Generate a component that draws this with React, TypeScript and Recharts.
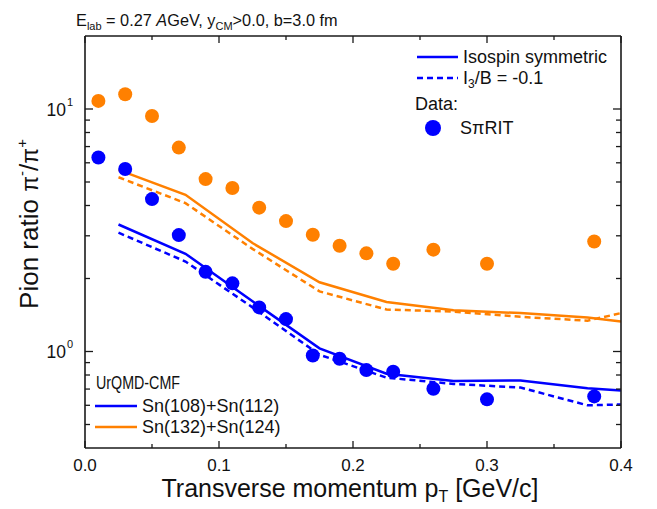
import React from 'react';
import { ComposedChart, Line, Scatter, XAxis, YAxis } from 'recharts';

// Model (UrQMD-CMF) pT bin centres [GeV/c]
const modelPt = [0.025, 0.075, 0.125, 0.175, 0.225, 0.275, 0.325, 0.375, 0.4];
// Sn(108)+Sn(112)
const lightSym = [3.34, 2.53, 1.61, 1.03, 0.81, 0.755, 0.76, 0.705, 0.69];
const lightIso = [3.09, 2.35, 1.52, 0.97, 0.78, 0.735, 0.71, 0.6, 0.605];
// Sn(132)+Sn(124)
const heavySym = [5.61, 4.43, 2.8, 1.93, 1.6, 1.48, 1.44, 1.38, 1.33];
const heavyIso = [5.23, 4.09, 2.65, 1.77, 1.49, 1.46, 1.39, 1.34, 1.44];

// SπRIT data
const dataPt = [0.01, 0.03, 0.05, 0.07, 0.09, 0.11, 0.13, 0.15, 0.17, 0.19, 0.21, 0.23, 0.26, 0.3, 0.38];
const dataLight = [6.31, 5.66, 4.25, 3.02, 2.13, 1.91, 1.52, 1.36, 0.963, 0.933, 0.838, 0.825, 0.702, 0.635, 0.653];
const dataHeavy = [10.8, 11.5, 9.36, 6.93, 5.14, 4.72, 3.92, 3.45, 3.03, 2.73, 2.54, 2.3, 2.63, 2.3, 2.84];

// Axis ticks
const xMajor = [0, 0.1, 0.2, 0.3, 0.4];
const xMinor = [0.05, 0.15, 0.25, 0.35];
const yMajor = [1, 10];
const yMinor = [0.5, 0.6, 0.7, 0.8, 0.9, 2, 3, 4, 5, 6, 7, 8, 9];
const yMajorLabels = ['0', '1'];

const BLUE = '#0000ff';
const ORANGE = '#ff8000';
const AX = '#1a1a1a';
const FONT = '"Liberation Sans", Arial, Helvetica, sans-serif';

const xTicks = [...xMajor, ...xMinor].sort((a, b) => a - b);
const yTicks = [...yMajor, ...yMinor].sort((a, b) => a - b);

const toPts = (xs: number[], ys: number[]) => xs.map((x, i) => ({ x, y: ys[i] }));

const isMajorX = (v: number) => xMajor.some((m) => Math.abs(m - v) < 1e-9);
const majorYIndex = (v: number) => yMajor.findIndex((m) => Math.abs(m - v) < 1e-9);

function BottomTick(props: any) {
  const { x, y, payload } = props;
  const v = payload.value;
  const major = isMajorX(v);
  return (
    <g>
      <line x1={x} x2={x} y1={y} y2={y - (major ? 7 : 4)} stroke={AX} strokeWidth={1.3} />
      {major && (
        <text x={x} y={y + 23} textAnchor="middle" fontSize={17} fill="#111" fontFamily={FONT}>
          {v.toFixed(1)}
        </text>
      )}
    </g>
  );
}

function TopTick(props: any) {
  const { x, y, payload } = props;
  const major = isMajorX(payload.value);
  return <line x1={x} x2={x} y1={y} y2={y + (major ? 7 : 4)} stroke={AX} strokeWidth={1.3} />;
}

function LeftTick(props: any) {
  const { x, y, payload } = props;
  const idx = majorYIndex(payload.value);
  const major = idx >= 0;
  return (
    <g>
      <line x1={x} x2={x + (major ? 8 : 5)} y1={y} y2={y} stroke={AX} strokeWidth={1.3} />
      {major && (
        <text x={x - 12} y={y + 7} textAnchor="end" fontSize={17.5} fill="#111" fontFamily={FONT}>
          10
          <tspan dx={1} dy={-10} fontSize={11}>
            {yMajorLabels[idx]}
          </tspan>
        </text>
      )}
    </g>
  );
}

function RightTick(props: any) {
  const { x, y, payload } = props;
  const major = majorYIndex(payload.value) >= 0;
  return <line x1={x} x2={x - (major ? 8 : 5)} y1={y} y2={y} stroke={AX} strokeWidth={1.3} />;
}

const Dot = (color: string, r: number) => (props: any) => {
  const { cx, cy } = props;
  if (cx == null || cy == null) return null;
  return <circle cx={cx} cy={cy} r={r} fill={color} />;
};

export default function App() {
  const W = 657;
  const H = 509;
  return (
    <div style={{ position: 'absolute', left: 0, top: 0, width: W, height: H, background: '#fff' }}>
      <ComposedChart width={W} height={H} margin={{ top: 0, right: 0, bottom: 0, left: 0 }}>
        <XAxis
          xAxisId="x"
          dataKey="x"
          type="number"
          orientation="bottom"
          domain={[0, 0.4]}
          ticks={xTicks}
          interval={0}
          allowDataOverflow
          height={61}
          tickSize={0}
          tickMargin={0}
          tickLine={false}
          axisLine={{ stroke: AX, strokeWidth: 1.6 }}
          tick={<BottomTick />}
        />
        <XAxis
          xAxisId="xt"
          dataKey="x"
          type="number"
          orientation="top"
          domain={[0, 0.4]}
          ticks={xTicks}
          interval={0}
          allowDataOverflow
          height={36}
          tickSize={0}
          tickMargin={0}
          tickLine={false}
          axisLine={{ stroke: AX, strokeWidth: 1.6 }}
          tick={<TopTick />}
        />
        <YAxis
          yAxisId="y"
          type="number"
          scale="log"
          domain={[0.4, 20]}
          ticks={yTicks}
          interval={0}
          allowDataOverflow
          width={85}
          tickSize={0}
          tickMargin={0}
          tickLine={false}
          axisLine={{ stroke: AX, strokeWidth: 1.6 }}
          tick={<LeftTick />}
        />
        <YAxis
          yAxisId="yr"
          orientation="right"
          type="number"
          scale="log"
          domain={[0.4, 20]}
          ticks={yTicks}
          interval={0}
          allowDataOverflow
          width={36}
          tickSize={0}
          tickMargin={0}
          tickLine={false}
          axisLine={{ stroke: AX, strokeWidth: 1.6 }}
          tick={<RightTick />}
        />
        <Line
          xAxisId="x"
          yAxisId="y"
          data={toPts(modelPt, heavySym)}
          dataKey="y"
          type="linear"
          stroke={ORANGE}
          strokeWidth={2.5}
          dot={false}
          isAnimationActive={false}
        />
        <Line
          xAxisId="x"
          yAxisId="y"
          data={toPts(modelPt, heavyIso)}
          dataKey="y"
          type="linear"
          stroke={ORANGE}
          strokeWidth={2.5}
          strokeDasharray="6 4"
          dot={false}
          isAnimationActive={false}
        />
        <Line
          xAxisId="x"
          yAxisId="y"
          data={toPts(modelPt, lightSym)}
          dataKey="y"
          type="linear"
          stroke={BLUE}
          strokeWidth={2.5}
          dot={false}
          isAnimationActive={false}
        />
        <Line
          xAxisId="x"
          yAxisId="y"
          data={toPts(modelPt, lightIso)}
          dataKey="y"
          type="linear"
          stroke={BLUE}
          strokeWidth={2.5}
          strokeDasharray="6 4"
          dot={false}
          isAnimationActive={false}
        />
        <Scatter
          xAxisId="x"
          yAxisId="y"
          data={toPts(dataPt, dataHeavy)}
          dataKey="y"
          fill={ORANGE}
          shape={Dot(ORANGE, 7)}
          isAnimationActive={false}
        />
        <Scatter
          xAxisId="x"
          yAxisId="y"
          data={toPts(dataPt, dataLight)}
          dataKey="y"
          fill={BLUE}
          shape={Dot(BLUE, 7)}
          isAnimationActive={false}
        />
      </ComposedChart>
      <svg
        width={W}
        height={H}
        style={{ position: 'absolute', left: 0, top: 0, pointerEvents: 'none' }}
        fontFamily={FONT}
      >
        {/* Title */}
        <text x={76} y={26} fontSize={16.3} fill="#111">
          E<tspan fontSize={11} dy={4}>lab</tspan>
          <tspan dy={-4}> = 0.27 </tspan>
          <tspan fontStyle="italic">A</tspan>
          <tspan>GeV, y</tspan>
          <tspan fontSize={11} dy={4}>CM</tspan>
          <tspan dy={-4}>&gt;0.0, b=3.0 fm</tspan>
        </text>
        {/* Axis titles */}
        <text x={350} y={497} textAnchor="middle" fontSize={25} fill="#111">
          Transverse momentum p<tspan fontSize={16} dy={5}>T</tspan>
          <tspan dy={-5}> [GeV/c]</tspan>
        </text>
        <text x={38} y={224} textAnchor="middle" fontSize={26} fill="#111" transform="rotate(-90 38 224)">
          Pion ratio <tspan fontSize={23}>π</tspan>
          <tspan fontSize={15} dy={-11}>-</tspan>
          <tspan dy={11}>/</tspan>
          <tspan fontSize={23}>π</tspan>
          <tspan fontSize={15} dy={-11}>+</tspan>
        </text>
        {/* Top-right legend */}
        <line x1={417} x2={458} y1={57} y2={57} stroke={BLUE} strokeWidth={2.5} />
        <text x={463} y={63} fontSize={18} fill="#111">Isospin symmetric</text>
        <line x1={417} x2={458} y1={78} y2={78} stroke={BLUE} strokeWidth={2.5} strokeDasharray="6 4" />
        <text x={463} y={84} fontSize={18} fill="#111">
          I<tspan fontSize={12} dy={4}>3</tspan>
          <tspan dy={-4}>/B = -0.1</tspan>
        </text>
        <text x={415} y={110} fontSize={18} fill="#111">Data:</text>
        <circle cx={433} cy={128} r={8} fill={BLUE} />
        <text x={460} y={134} fontSize={18} fill="#111">SπRIT</text>
        {/* Bottom-left legend */}
        <text x={96} y={389} fontSize={17.5} fill="#111" textLength={84} lengthAdjust="spacingAndGlyphs">
          UrQMD-CMF
        </text>
        <line x1={95} x2={137} y1={406} y2={406} stroke={BLUE} strokeWidth={2.5} />
        <text x={142} y={412} fontSize={18} fill="#111">Sn(108)+Sn(112)</text>
        <line x1={95} x2={137} y1={427} y2={427} stroke={ORANGE} strokeWidth={2.5} />
        <text x={142} y={433} fontSize={18} fill="#111">Sn(132)+Sn(124)</text>
      </svg>
    </div>
  );
}
